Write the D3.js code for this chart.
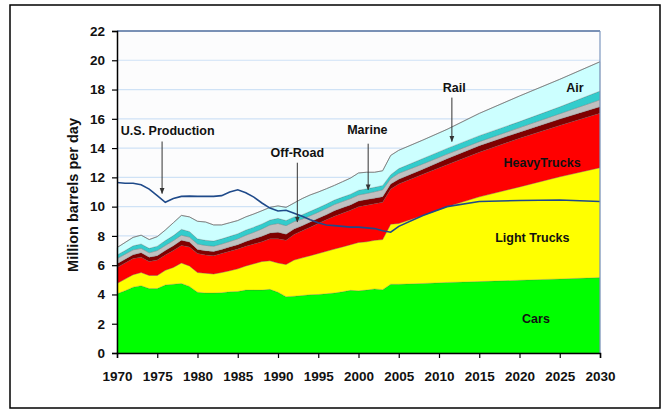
<!DOCTYPE html>
<html><head><meta charset="utf-8">
<script src="https://cdn.jsdelivr.net/npm/d3@7"></script>
<style>
body{margin:0;background:#fff;}
svg{display:block;font-family:"Liberation Sans",Arial,sans-serif;}
</style>
</head><body>
<svg id="chart" width="668" height="412"></svg>
<script>
// ---- data (million barrels per day) ----
const years = [1970,1971,1972,1973,1974,1975,1976,1977,1978,1979,1980,1981,1982,1983,1984,1985,1986,1987,1988,1989,
  1990,1991,1992,1993,1994,1995,1996,1997,1998,1999,2000,2001,2002,2003,2004,2005,2008,2011,2015,2020,2025,2030];
const cars = [4.05,4.25,4.50,4.60,4.40,4.40,4.65,4.70,4.75,4.55,4.15,4.10,4.10,4.12,4.18,4.20,4.30,4.30,4.30,4.35,
  4.15,3.85,3.88,3.93,3.98,4.00,4.05,4.10,4.18,4.28,4.25,4.30,4.38,4.33,4.70,4.70,4.75,4.82,4.88,4.97,5.06,5.15];
const lightTrucks = [0.70,0.80,0.85,0.90,0.90,0.90,1.00,1.15,1.40,1.40,1.35,1.35,1.30,1.38,1.44,1.55,1.65,1.80,1.95,1.95,
  2.00,2.20,2.47,2.57,2.67,2.80,2.90,3.00,3.07,3.12,3.30,3.30,3.32,3.42,4.10,4.15,4.65,5.18,5.79,6.38,6.98,7.51];
const heavyTrucks = [1.10,1.10,1.10,1.05,0.95,1.05,1.05,1.15,1.20,1.30,1.30,1.25,1.25,1.30,1.33,1.35,1.35,1.35,1.35,1.50,
  1.65,1.65,1.75,1.85,1.95,2.05,2.15,2.25,2.30,2.35,2.45,2.50,2.50,2.55,2.40,2.70,2.82,2.87,3.04,3.32,3.51,3.72];
const offRoad = [0.25,0.25,0.27,0.30,0.30,0.30,0.30,0.32,0.35,0.33,0.28,0.28,0.28,0.28,0.30,0.30,0.32,0.35,0.38,0.40,
  0.45,0.42,0.38,0.35,0.35,0.35,0.35,0.37,0.37,0.37,0.38,0.38,0.38,0.38,0.35,0.32,0.34,0.41,0.45,0.42,0.43,0.45];
const marine = [0.35,0.35,0.33,0.30,0.30,0.35,0.35,0.36,0.35,0.34,0.37,0.37,0.37,0.37,0.37,0.40,0.43,0.45,0.50,0.55,
  0.60,0.58,0.50,0.45,0.43,0.42,0.43,0.43,0.43,0.43,0.42,0.42,0.44,0.47,0.37,0.41,0.36,0.31,0.28,0.31,0.37,0.47];
const rail = [0.25,0.25,0.27,0.30,0.30,0.30,0.33,0.34,0.40,0.38,0.35,0.35,0.35,0.35,0.35,0.35,0.35,0.35,0.34,0.33,
  0.35,0.35,0.32,0.30,0.30,0.30,0.30,0.30,0.30,0.30,0.32,0.32,0.30,0.30,0.26,0.32,0.37,0.39,0.41,0.41,0.47,0.60];
const air = [0.50,0.55,0.58,0.60,0.60,0.65,0.72,0.88,0.95,1.00,1.20,1.25,1.10,0.95,0.93,0.90,0.90,0.90,0.90,0.87,
  0.85,0.90,0.95,1.10,1.12,1.08,1.04,1.00,1.05,1.10,1.18,1.13,1.03,1.00,1.32,1.25,1.26,1.30,1.52,1.75,1.88,2.00];
const usProduction = [11.65,11.60,11.60,11.50,11.20,10.75,10.30,10.55,10.70,10.72,10.70,10.70,10.70,10.75,11.00,11.15,10.95,10.65,10.25,9.90,
  9.70,9.75,9.55,9.35,9.10,8.90,8.75,8.70,8.65,8.60,8.60,8.55,8.50,8.35,8.25,8.65,9.40,10.00,10.35,10.42,10.45,10.35];
const yTicks = [0,2,4,6,8,10,12,14,16,18,20,22];
const xTicks = [1970,1975,1980,1985,1990,1995,2000,2005,2010,2015,2020,2025,2030];

const seriesKeys = ["Cars","Light Trucks","Heavy Trucks","Off-Road","Marine","Rail","Air"];
const seriesVals = [cars, lightTrucks, heavyTrucks, offRoad, marine, rail, air];
const colors = {"Cars":"#00ff00","Light Trucks":"#ffff00","Heavy Trucks":"#ff0000","Off-Road":"#800000",
  "Marine":"#c0c0c0","Rail":"#33cccc","Air":"#ccffff"};

// annotations in data units
const annotations = [
  {text:"U.S. Production", x:1976.3, y:14.89, arrow:[1975.6,14.45,10.9]},
  {text:"Off-Road", x:1992.4, y:13.39, arrow:[1992.4,13.0,8.95]},
  {text:"Marine", x:2001.1, y:14.96, arrow:[2001.2,14.3,11.15]},
  {text:"Rail", x:2011.9, y:17.83, arrow:[2011.6,17.45,14.45]},
  {text:"Air", x:2026.9, y:17.83},
  {text:"HeavyTrucks", x:2022.8, y:12.71},
  {text:"Light Trucks", x:2021.6, y:7.58},
  {text:"Cars", x:2022.05, y:2.05}
];

// ---- layout ----
const svg = d3.select("#chart");
const L = 117, R = 600, T = 31, B = 353;
const x = d3.scaleLinear().domain([1970,2030]).range([L,R]);
const y = d3.scaleLinear().domain([0,22]).range([B,T]);

svg.append("rect").attr("x",10).attr("y",5).attr("width",650).attr("height",403)
  .attr("fill","#fff").attr("stroke","#000").attr("stroke-width",1.5);
svg.append("rect").attr("x",L).attr("y",T).attr("width",R-L).attr("height",B-T).attr("fill","#fcfcfd");

// gridlines
svg.append("g").selectAll("line").data(yTicks.filter(v=>v>0 && v<22)).join("line")
  .attr("x1",L).attr("x2",R).attr("y1",d=>y(d)).attr("y2",d=>y(d))
  .attr("stroke","#cfe2f6").attr("stroke-width",1.2);

// stacked areas
const table = years.map((yr,i)=>{const o={year:yr}; seriesKeys.forEach((k,j)=>o[k]=seriesVals[j][i]); return o;});
const stack = d3.stack().keys(seriesKeys)(table);
const area = d3.area().x(d=>x(d.data.year)).y0(d=>y(d[0])).y1(d=>y(d[1]));
svg.append("g").selectAll("path").data(stack).join("path")
  .attr("d",area).attr("fill",d=>colors[d.key])
  .attr("stroke","#5a5a5a").attr("stroke-width",0.4).attr("stroke-opacity",0.6);
// top outline of Air
const topLine = d3.line().x(d=>x(d.data.year)).y(d=>y(d[1]));
svg.append("path").attr("d",topLine(stack[stack.length-1])).attr("fill","none")
  .attr("stroke","#7a7a7a").attr("stroke-width",0.9);

// US production line
const prodLine = d3.line().x((d,i)=>x(years[i])).y(d=>y(d));
svg.append("path").attr("d",prodLine(usProduction)).attr("fill","none")
  .attr("stroke","#1f4a8a").attr("stroke-width",1.6);

// plot frame (top & right)
svg.append("line").attr("x1",L).attr("x2",R).attr("y1",T).attr("y2",T).attr("stroke","#4e6c9c").attr("stroke-width",1.5);
svg.append("line").attr("x1",R).attr("x2",R).attr("y1",T).attr("y2",B).attr("stroke","#7d97bf").attr("stroke-width",1.2);

// axes
const yAxis = svg.append("g").attr("transform",`translate(${L},0)`)
  .call(d3.axisLeft(y).tickValues(yTicks).tickSize(5).tickPadding(7).tickFormat(d3.format("d")));
const xAxis = svg.append("g").attr("transform",`translate(0,${B})`)
  .call(d3.axisBottom(x).tickValues(xTicks).tickSize(5).tickPadding(13).tickFormat(d3.format("d")));
[yAxis,xAxis].forEach(g=>{
  g.select(".domain").attr("stroke","#000").attr("stroke-width",1.5);
  g.selectAll(".tick line").attr("stroke","#000").attr("stroke-width",1.2);
  g.selectAll("text").attr("font-size",13.5).attr("font-weight","bold").attr("fill","#111")
    .attr("font-family",'"Liberation Sans",Arial,sans-serif');
});

svg.append("text").attr("transform",`translate(78,195) rotate(-90)`).attr("text-anchor","middle")
  .attr("font-size",14.5).attr("font-weight","bold").attr("fill","#111").text("Million barrels per day");

// arrow marker
svg.append("defs").append("marker").attr("id","ah").attr("viewBox","0 0 10 10")
  .attr("refX",9).attr("refY",5).attr("markerWidth",6).attr("markerHeight",6).attr("orient","auto")
  .append("path").attr("d","M0,1 L10,5 L0,9 Z").attr("fill","#333");

const ag = svg.append("g");
annotations.forEach(a=>{
  if(a.arrow){
    ag.append("line").attr("x1",x(a.arrow[0])).attr("x2",x(a.arrow[0]))
      .attr("y1",y(a.arrow[1])).attr("y2",y(a.arrow[2]))
      .attr("stroke","#333").attr("stroke-width",1).attr("marker-end","url(#ah)");
  }
  ag.append("text").attr("x",x(a.x)).attr("y",y(a.y)).attr("text-anchor","middle")
    .attr("font-size",12.5).attr("font-weight","bold").attr("fill","#111").text(a.text);
});
</script>
</body></html>
